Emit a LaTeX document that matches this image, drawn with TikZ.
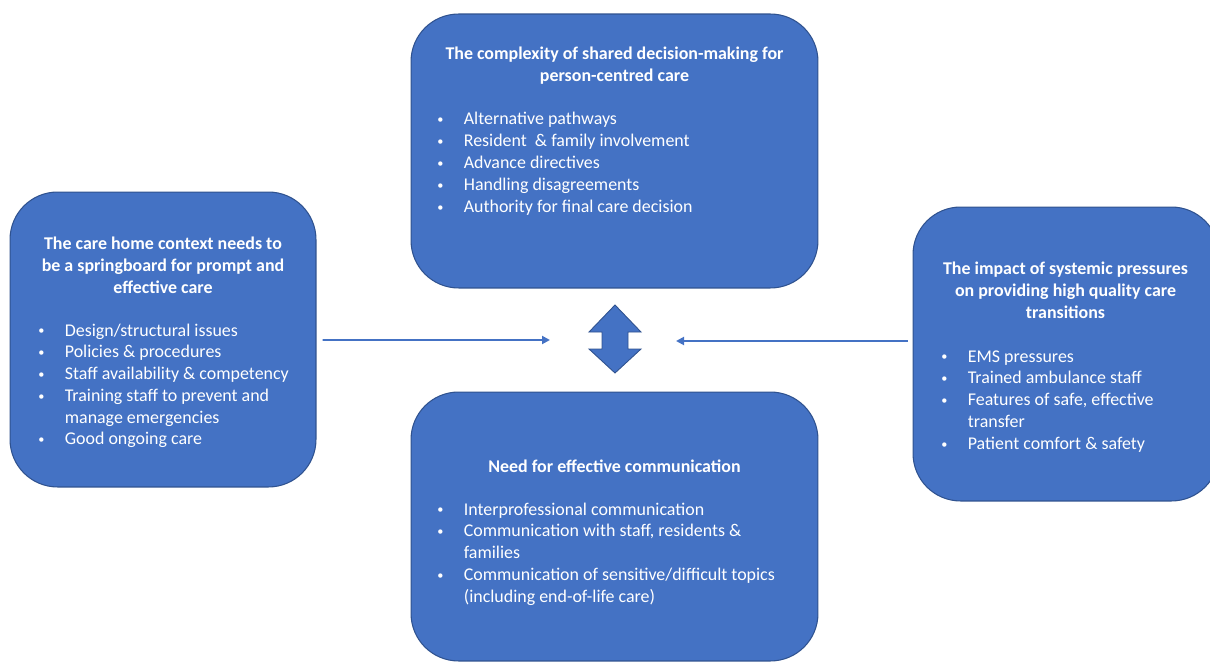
\documentclass[tikz,border=0pt]{standalone}
\usepackage{fontspec}
\setmainfont{Carlito}
\usetikzlibrary{positioning,arrows.meta}
\usepackage{xcolor}
\definecolor{OffBlue}{RGB}{68,114,196}
\definecolor{OffEdge}{RGB}{47,82,143}

\newcommand{\bul}{\makebox[0.53cm][l]{\raisebox{0.6pt}{\fontsize{7}{7}\selectfont\textbullet}}}
\newcommand{\ind}{\hspace*{0.53cm}}

\begin{document}
\begin{tikzpicture}[
x=0.02cm,y=-0.02cm,
theme/.style={rectangle,rounded corners=0.95cm,draw=OffEdge,line width=0.6pt,fill=OffBlue},
title/.style={anchor=base,inner sep=0pt,text=white,font=\fontsize{10.2}{12.4}\selectfont\bfseries},
items/.style={anchor=base west,inner sep=0pt,text=white,font=\fontsize{10.2}{12.4}\selectfont},
arrow/.style={-{Triangle[length=1.6mm,width=1.6mm]},line width=1.1pt,draw=OffBlue},
dblarrow/.style={draw=OffEdge,line width=0.5pt,fill=OffBlue}
]
\useasboundingbox (0,0) rectangle (1210,662);

% four themes
\node[theme,minimum width=8.14cm,minimum height=5.48cm] (decision) at (614.5,151) {};
\node[theme,minimum width=6.12cm,minimum height=5.9cm] (carehome) at (163,339.5) {};
\node[theme,minimum width=6.12cm,minimum height=5.88cm] (pressures) at (1066,354) {};
\node[theme,minimum width=8.14cm,minimum height=5.38cm] (communication) at (614.5,526.5) {};

% texts
\node[title] (decisionT) at (614.5,60) {\begin{tabular}[t]{@{}c@{}}The complexity of shared decision-making for\\person-centred care\end{tabular}};
\node[items] (decisionL) at (437,125) {\begin{tabular}[t]{@{}l@{}}
\bul Alternative pathways\\
\bul Resident\ \ \& family involvement\\
\bul Advance directives\\
\bul Handling disagreements\\
\bul Authority for final care decision
\end{tabular}};

\node[title] (carehomeT) at (163,250) {\begin{tabular}[t]{@{}c@{}}The care home context needs to\\be a springboard for prompt and\\effective care\end{tabular}};
\node[items] (carehomeL) at (38,336) {\begin{tabular}[t]{@{}l@{}}
\bul Design/structural issues\\
\bul Policies \& procedures\\
\bul Staff availability \& competency\\
\bul Training staff to prevent and\\
\ind manage emergencies\\
\bul Good ongoing care
\end{tabular}};

\node[title] (pressuresT) at (1065.5,275) {\begin{tabular}[t]{@{}c@{}}The impact of systemic pressures\\on providing high quality care\\transitions\end{tabular}};
\node[items] (pressuresL) at (941,362) {\begin{tabular}[t]{@{}l@{}}
\bul EMS pressures\\
\bul Trained ambulance staff\\
\bul Features of safe, effective\\
\ind transfer\\
\bul Patient comfort \& safety
\end{tabular}};

\node[title] (communicationT) at (614.5,472) {Need for effective communication};
\node[items] (communicationL) at (437,515) {\begin{tabular}[t]{@{}l@{}}
\bul Interprofessional communication\\
\bul Communication with staff, residents \&\\
\ind families\\
\bul Communication of sensitive/difficult topics\\
\ind (including end-of-life care)
\end{tabular}};

% centre
\draw[dblarrow] (615,305) -- (641,332) -- (628,332) -- (628,349) -- (641,349) -- (615,373)
  -- (589,349) -- (602,349) -- (602,332) -- (589,332) -- cycle;
\coordinate (leftin) at (550,340);
\coordinate (rightin) at (676,341);
\draw[arrow] (carehome.east) ++(6,0.5) -- (leftin);
\draw[arrow] (pressures.west) ++(-5,-13) -- (rightin);
\end{tikzpicture}
\end{document}
